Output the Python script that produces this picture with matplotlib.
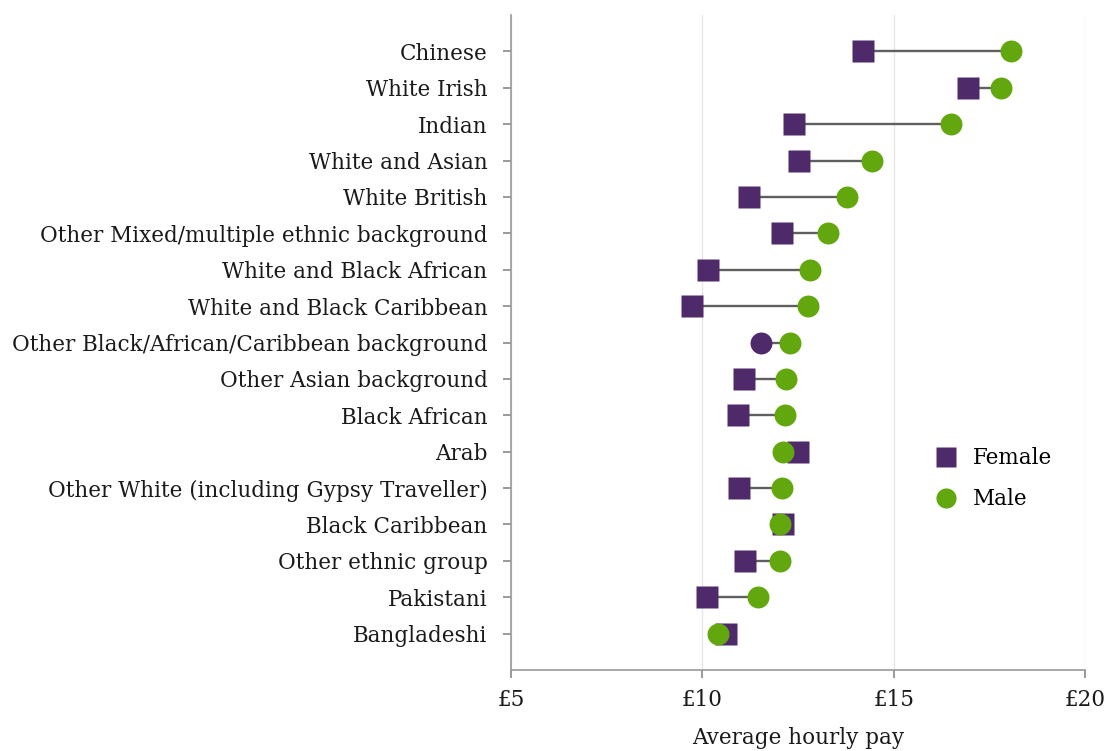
import matplotlib
matplotlib.use("Agg")
import matplotlib.pyplot as plt
from matplotlib.lines import Line2D

categories = [
    "Chinese", "White Irish", "Indian", "White and Asian", "White British",
    "Other Mixed/multiple ethnic background", "White and Black African",
    "White and Black Caribbean", "Other Black/African/Caribbean background",
    "Other Asian background", "Black African", "Arab",
    "Other White (including Gypsy Traveller)", "Black Caribbean",
    "Other ethnic group", "Pakistani", "Bangladeshi",
]
female = [14.19, 16.93, 12.40, 12.52, 11.22, 12.08, 10.15, 9.73, 11.54,
          11.09, 10.93, 12.50, 10.96, 12.11, 11.12, 10.12, 10.62]
male = [18.06, 17.80, 16.51, 14.44, 13.78, 13.29, 12.82, 12.76, 12.29,
        12.18, 12.15, 12.12, 12.09, 12.04, 12.04, 11.45, 10.42]
female_shape = ["s"] * 8 + ["o"] + ["s"] * 8
x_ticks = [5, 10, 15, 20]
x_ticklabels = ["£5", "£10", "£15", "£20"]

PURPLE = "#4f2a6b"
GREEN = "#63a70e"
FONT = "DejaVu Serif"
FS = 15.5
plt.rcParams["font.family"] = FONT

fig = plt.figure(figsize=(11.08, 7.51), dpi=100)
ax = fig.add_axes([511 / 1108, 1 - 670 / 751, (1085 - 511) / 1108, (670 - 15) / 751])

ys = list(range(len(categories)))
for y, f, m in zip(ys, female, male):
    ax.plot([f, m], [y, y], color="#5f5f5f", lw=1.7, zorder=2, solid_capstyle="butt")
for y, f, mk in zip(ys, female, female_shape):
    ax.plot([f], [y], marker=mk, ms=16.5 if mk == "s" else 15.8, color=PURPLE,
            mec="none", ls="none", zorder=3)
ax.plot(male, ys, marker="o", ms=15.8, color=GREEN, mec="none", ls="none", zorder=4)

ax.set_xlim(5, 20)
ax.set_ylim(17, -1)
ax.set_yticks(ys)
ax.set_yticklabels(categories)
ax.set_xticks(x_ticks)
ax.set_xticklabels(x_ticklabels)
ax.tick_params(axis="both", colors="#888888", labelcolor="#1a1a1a", labelsize=FS,
               length=6, width=1.2)
ax.tick_params(axis="y", pad=11)
ax.tick_params(axis="x", pad=8)
ax.grid(axis="x", color="#e6e6e6", lw=1)
ax.set_axisbelow(True)
for s in ["top", "right"]:
    ax.spines[s].set_visible(False)
for s in ["left", "bottom"]:
    ax.spines[s].set_color("#999999")
    ax.spines[s].set_linewidth(1.2)
ax.set_xlabel("Average hourly pay", fontsize=FS, color="#1a1a1a", labelpad=11)

handles = [
    Line2D([], [], marker="s", ms=14.5, color=PURPLE, mec="none", ls="none"),
    Line2D([], [], marker="o", ms=14.5, color=GREEN, mec="none", ls="none"),
]
ax.legend(handles, ["Female", "Male"], loc="center left", bbox_to_anchor=(0.739, 0.292),
          frameon=False, fontsize=FS, handletextpad=0.77, labelspacing=0.9,
          handlelength=1.0, borderpad=0, borderaxespad=0)

fig.savefig("out.png", dpi=100)
